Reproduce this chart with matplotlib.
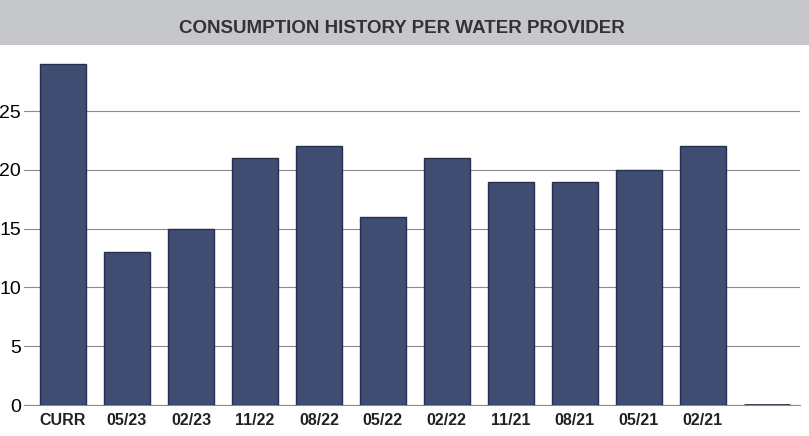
import matplotlib.pyplot as plt
from matplotlib.patches import Rectangle

periods = ['CURR', '05/23', '02/23', '11/22', '08/22', '05/22', '02/22',
           '11/21', '08/21', '05/21', '02/21', '']
consumption = [29, 13, 15, 21, 22, 16, 21, 19, 19, 20, 22, 0]
y_ticks = [0, 5, 10, 15, 20, 25]

W, H = 809, 436
fig = plt.figure(figsize=(W / 100, H / 100), dpi=100)
fig.patch.set_facecolor('white')

# grey title band
fig.patches.append(Rectangle((0, 1 - 45 / H), 1, 45 / H, transform=fig.transFigure,
                             facecolor='#c6c7ca', edgecolor='none', zorder=0))
fig.text(402 / W, 1 - 28 / H, 'CONSUMPTION HISTORY PER WATER PROVIDER',
         ha='center', va='center', fontsize=13.5, fontweight='bold', color='#333333',
         family=['Liberation Sans Narrow', 'Liberation Sans', 'DejaVu Sans'])

left, right, top, bottom = 24, 800, 50, 405
ax = fig.add_axes([left / W, 1 - bottom / H, (right - left) / W, (bottom - top) / H])

x = range(len(periods))
widths = [1.0 if v > 0 else 2.0 for v in consumption]
ax.bar(x, consumption, width=0.72, color='#3f4d72', edgecolor='#27304a',
       linewidth=widths, zorder=3)

ax.set_xlim(-0.61, 11.52)
ax.set_ylim(0, 30.2)
ax.set_yticks(y_ticks)
ax.set_yticklabels([str(v) for v in y_ticks], fontsize=14,
                   family=['Liberation Sans', 'DejaVu Sans'])
ax.set_xticks(list(x))
ax.set_xticklabels(periods, fontsize=11.5, fontweight='bold', color='#222222',
                   family=['Liberation Sans', 'DejaVu Sans'])
ax.tick_params(axis='y', length=0, pad=2)
ax.tick_params(axis='x', length=0, pad=6)

ax.yaxis.grid(True, color='#8a8a8a', linewidth=0.8, zorder=0)
ax.set_axisbelow(True)
for s in ['top', 'right', 'left']:
    ax.spines[s].set_visible(False)
ax.spines['bottom'].set_color('#8a8a8a')
ax.spines['bottom'].set_linewidth(0.8)

fig.savefig('out.png', dpi=100)
